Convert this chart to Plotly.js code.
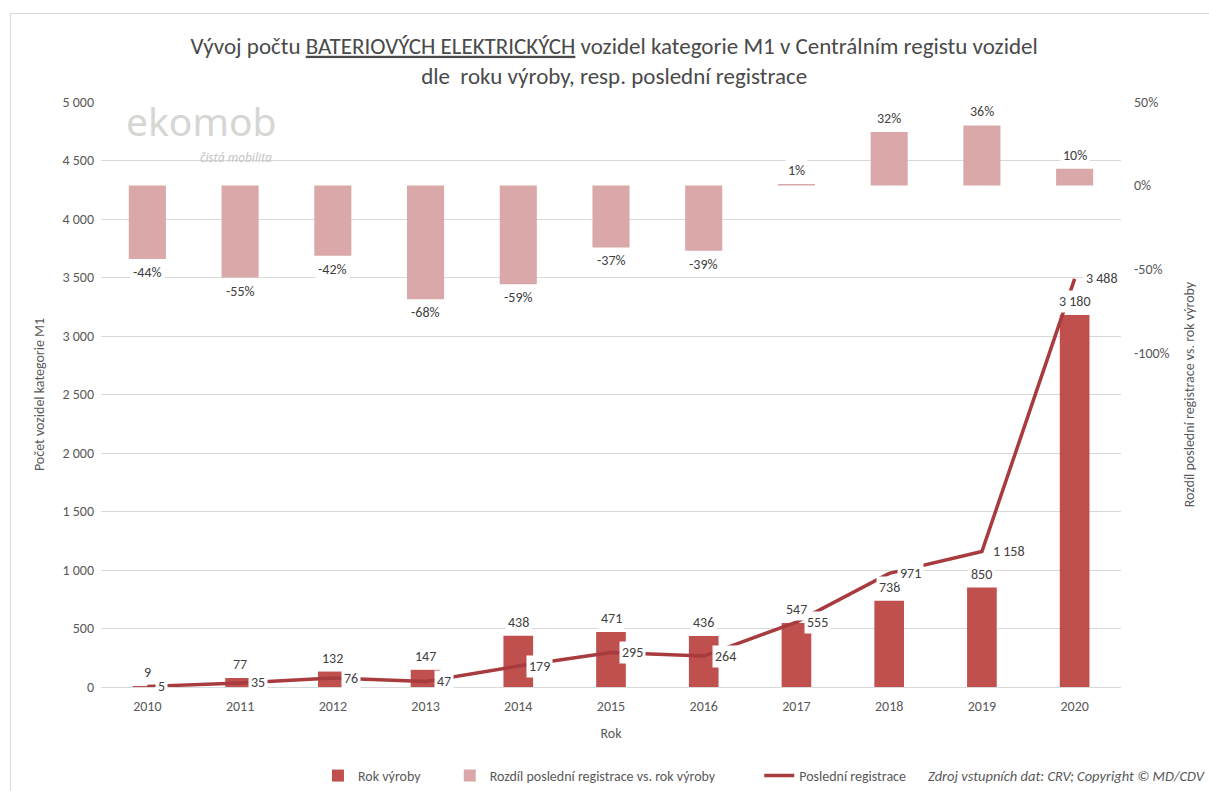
<!DOCTYPE html>
<html>
<head>
<meta charset="utf-8">
<script src="https://cdn.plot.ly/plotly-3.0.1.min.js"></script>
<style>
  html, body { margin: 0; padding: 0; background: #fff; }
  #chart { position: absolute; left: 0; top: 0; width: 1209px; height: 791px; }
  #frame { position: absolute; left: 10px; top: 13px; width: 1300px; height: 900px;
           border-left: 1px solid #D9D9D9; border-top: 1px solid #D9D9D9; pointer-events: none; }
</style>
</head>
<body>
<div id="chart"></div>
<div id="frame"></div>
<script>
const years = ['2010','2011','2012','2013','2014','2015','2016','2017','2018','2019','2020'];
const rokVyroby = [9, 77, 132, 147, 438, 471, 436, 547, 738, 850, 3180];
const posledniRegistrace = [5, 35, 76, 47, 179, 295, 264, 555, 971, 1158, 3488];
const rozdilPct = [-44, -55, -42, -68, -59, -37, -39, 1, 32, 36, 10];
const rightTickVals = [50, 0, -50, -100];
const rightTickText = ['50%', '0%', '-50%', '-100%'];

const FONT = "Carlito, 'Liberation Sans Narrow', 'Open Sans', sans-serif";
const TXT = '#595959';
const LBL = 14;
const fmt = v => String(v).replace(/\B(?=(\d{3})+(?!\d))/g, ' ');

const traces = [
  {
    type: 'bar', name: 'Rok výroby', x: years, y: rokVyroby,
    marker: { color: '#C0504D' }, width: 0.32, yaxis: 'y', legend: 'legend'
  },
  {
    type: 'bar', name: 'Rozdíl poslední registrace vs. rok výroby', x: years, y: rozdilPct,
    marker: { color: '#DAA8A8' }, width: 0.40, yaxis: 'y2', legend: 'legend2'
  },
  {
    type: 'scatter', mode: 'lines', name: 'Poslední registrace', x: years, y: posledniRegistrace,
    line: { color: '#A83B3E', width: 3.5 }, yaxis: 'y', legend: 'legend3'
  }
];

const ann = [];
years.forEach((yr, i) => {
  ann.push({ x: i, y: rokVyroby[i], xref: 'x', yref: 'y', yanchor: 'bottom', yshift: 2,
    text: fmt(rokVyroby[i]), showarrow: false, bgcolor: '#fff', borderpad: 2,
    font: { family: FONT, size: LBL, color: '#404040' } });
});
years.forEach((yr, i) => {
  const neg = rozdilPct[i] < 0;
  ann.push({ x: i, y: rozdilPct[i], xref: 'x', yref: 'y2', yanchor: neg ? 'top' : 'bottom',
    yshift: neg ? -2 : 2, text: rozdilPct[i] + '%', showarrow: false, bgcolor: '#fff', borderpad: 2,
    font: { family: FONT, size: LBL, color: '#404040' } });
});
years.forEach((yr, i) => {
  ann.push({ x: i, y: posledniRegistrace[i], xref: 'x', yref: 'y', xanchor: 'left', yanchor: 'middle',
    xshift: 8, text: fmt(posledniRegistrace[i]), showarrow: false, bgcolor: '#fff', borderpad: 2,
    font: { family: FONT, size: LBL, color: '#404040' } });
});
// watermark
ann.push({ xref: 'paper', yref: 'paper', x: 0.098, y: 0.968, xanchor: 'center', yanchor: 'middle',
  text: 'ekomob', showarrow: false, font: { family: "'Noto Sans', sans-serif", size: 39, color: '#D6D6D3' } });
ann.push({ xref: 'paper', yref: 'paper', x: 0.132, y: 0.905, xanchor: 'center', yanchor: 'middle',
  text: '<i>čistá mobilita</i>', showarrow: false, font: { family: "'Noto Sans', sans-serif", size: 12, color: '#C4C4C0' } });
// source
ann.push({ xref: 'paper', yref: 'paper', x: 1.0845, y: -0.152, xanchor: 'right', yanchor: 'middle',
  text: '<i>Zdroj vstupních dat: CRV; Copyright © MD/CDV</i>', showarrow: false,
  font: { family: FONT, size: 14.5, color: '#595959' } });

const legendBase = { orientation: 'h', xref: 'container', yref: 'container', xanchor: 'left', y: 0.019, yanchor: 'middle',
  font: { family: FONT, size: 14, color: TXT }, bgcolor: 'rgba(0,0,0,0)' };

const layout = {
  width: 1209, height: 791,
  margin: { l: 101, r: 88, t: 102, b: 104 },
  paper_bgcolor: '#fff', plot_bgcolor: '#fff',
  separators: ', ',
  font: { family: FONT, size: 13, color: TXT },
  title: {
    text: 'Vývoj počtu <span style="text-decoration:underline">BATERIOVÝCH ELEKTRICKÝCH</span> vozidel kategorie M1 v Centrálním registu vozidel<br>dle  roku výroby, resp. poslední registrace',
    x: 0.508, xanchor: 'center', y: 0.932, yanchor: 'middle',
    font: { family: FONT, size: 23, color: '#4A4A4A' }
  },
  barmode: 'overlay',
  showlegend: true,
  legend: Object.assign({}, legendBase, { x: 0.263 }),
  legend2: Object.assign({}, legendBase, { x: 0.372 }),
  legend3: Object.assign({}, legendBase, { x: 0.628 }),
  xaxis: {
    type: 'category', range: [-0.5, 10.5], automargin: false, showgrid: false, showline: true, linecolor: '#D9D9D9', ticks: '',
    ticklabelstandoff: 6,
    tickfont: { family: FONT, size: 14, color: TXT },
    title: { text: 'Rok', font: { family: FONT, size: 14, color: TXT }, standoff: 14 }
  },
  yaxis: {
    range: [0, 5000], dtick: 500, tickformat: ',d', automargin: false, showgrid: true, gridcolor: '#D9D9D9', gridwidth: 1,
    zeroline: false, showline: false, ticks: '', ticklabelstandoff: 6,
    tickfont: { family: FONT, size: 14, color: TXT },
    title: { text: 'Počet vozidel kategorie M1', font: { family: FONT, size: 14, color: TXT }, standoff: 14 }
  },
  yaxis2: {
    overlaying: 'y', side: 'right', range: [-300, 50], tickvals: rightTickVals, ticktext: rightTickText, automargin: false,
    showgrid: false, zeroline: false, showline: false, ticks: '', ticklabelstandoff: 12,
    tickfont: { family: FONT, size: 14, color: TXT },
    title: { text: 'Rozdíl poslední registrace vs. rok výroby', font: { family: FONT, size: 14, color: TXT }, standoff: 15 }
  },
  annotations: ann
};

Plotly.newPlot('chart', traces, layout, { staticPlot: true, displayModeBar: false });
</script>
</body>
</html>
